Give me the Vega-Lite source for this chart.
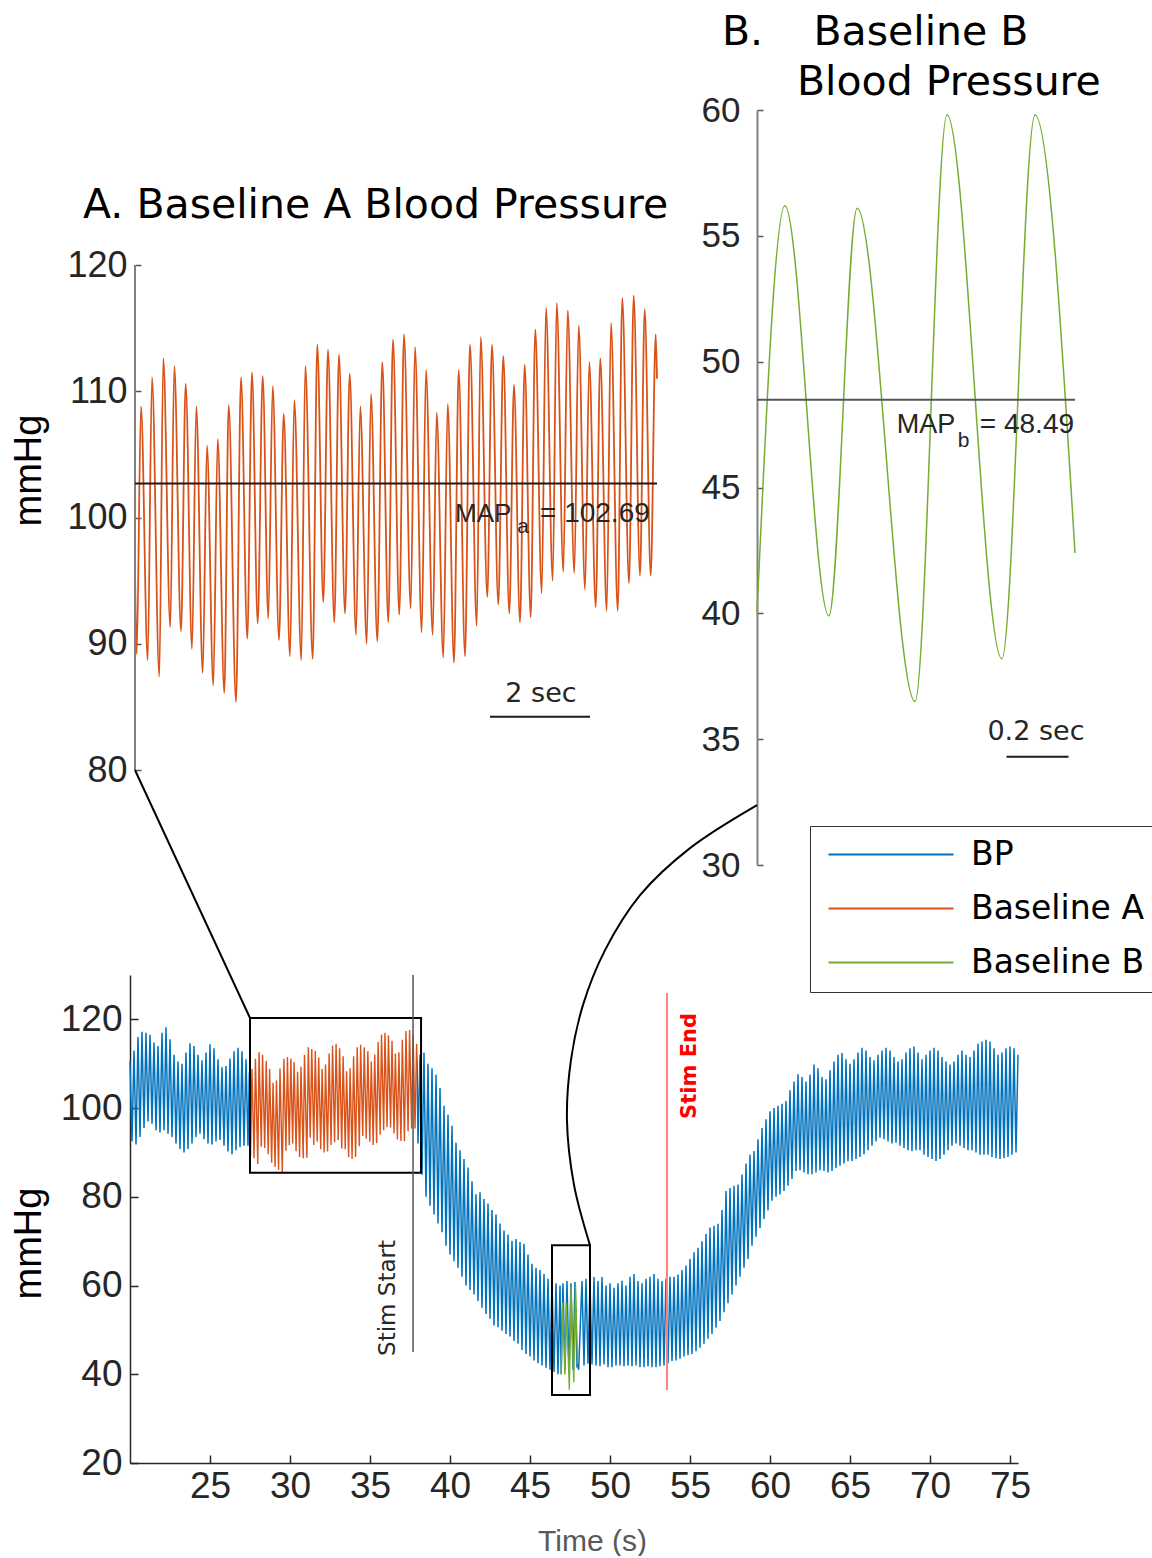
{
"$schema": "https://vega.github.io/schema/vega-lite/v6.json",
"background": "white",
"padding": {"left": 10, "top": 12, "right": 0, "bottom": 0},
"config": {"view": {"stroke": null}, "axis": {"grid": false, "labelFont": "Liberation Sans", "titleFont": "Liberation Sans", "labelColor": "#262626"}, "text": {"font": "DejaVu Sans"}},
"datasets": {
"ba": [{"t":27.5,"v":96},{"t":27.534,"v":89.2},{"t":27.62,"v":108.8},{"t":27.754,"v":88.7},{"t":27.84,"v":111.1},{"t":27.986,"v":87.4},{"t":28.066,"v":112.6},{"t":28.206,"v":91.3},{"t":28.286,"v":112},{"t":28.42,"v":91},{"t":28.514,"v":110.6},{"t":28.64,"v":89.6},{"t":28.726,"v":108.8},{"t":28.854,"v":87.7},{"t":28.94,"v":105.7},{"t":29.066,"v":86.7},{"t":29.154,"v":106.2},{"t":29.286,"v":86.1},{"t":29.374,"v":108.9},{"t":29.52,"v":85.4},{"t":29.62,"v":111.1},{"t":29.746,"v":90.4},{"t":29.84,"v":111.5},{"t":29.954,"v":91.6},{"t":30.054,"v":111.2},{"t":30.166,"v":92},{"t":30.254,"v":110.4},{"t":30.38,"v":90.3},{"t":30.474,"v":108.2},{"t":30.6,"v":89},{"t":30.686,"v":109.3},{"t":30.826,"v":88.7},{"t":30.906,"v":112},{"t":31.054,"v":88.8},{"t":31.146,"v":113.7},{"t":31.266,"v":93.3},{"t":31.36,"v":113.3},{"t":31.486,"v":91.7},{"t":31.58,"v":112.9},{"t":31.7,"v":92.4},{"t":31.794,"v":111.4},{"t":31.92,"v":90.7},{"t":32.006,"v":108.8},{"t":32.134,"v":90},{"t":32.22,"v":109.8},{"t":32.346,"v":90.2},{"t":32.446,"v":112.3},{"t":32.566,"v":91.7},{"t":32.66,"v":114.1},{"t":32.786,"v":92.3},{"t":32.88,"v":114.5},{"t":33.014,"v":92.8},{"t":33.1,"v":113.5},{"t":33.234,"v":90.9},{"t":33.32,"v":111.7},{"t":33.454,"v":90.7},{"t":33.534,"v":108.3},{"t":33.666,"v":88.9},{"t":33.754,"v":109},{"t":33.88,"v":88.5},{"t":33.974,"v":111.7},{"t":34.1,"v":89},{"t":34.2,"v":113.7},{"t":34.334,"v":91.4},{"t":34.414,"v":114.3},{"t":34.546,"v":93.7},{"t":34.64,"v":113.7},{"t":34.766,"v":93.1},{"t":34.866,"v":112.8},{"t":34.986,"v":92.4},{"t":35.08,"v":110.5},{"t":35.2,"v":91.7},{"t":35.294,"v":112.1},{"t":35.414,"v":92.1},{"t":35.506,"v":114.9},{"t":35.634,"v":94},{"t":35.72,"v":116.6},{"t":35.854,"v":95},{"t":35.934,"v":117},{"t":36.066,"v":95.7},{"t":36.154,"v":116.4},{"t":36.286,"v":95.6},{"t":36.374,"v":115.2},{"t":36.5,"v":94.3},{"t":36.586,"v":112.3},{"t":36.714,"v":92.9},{"t":36.806,"v":112.6},{"t":36.934,"v":92.6},{"t":37.02,"v":115.4},{"t":37.154,"v":92.6},{"t":37.246,"v":117.4},{"t":37.38,"v":94.8},{"t":37.474,"v":117.6},{"t":37.6,"v":95.4},{"t":37.694,"v":116.5},{"t":37.814,"v":95.4},{"t":37.914,"v":114.5},{"t":37.94,"v":111}],
"bb": [{"t":46.95,"v":40},{"t":47.04,"v":56.2},{"t":47.182,"v":39.9},{"t":47.273,"v":56.1},{"t":47.46,"v":36.5},{"t":47.563,"v":59.8},{"t":47.74,"v":38.2},{"t":47.847,"v":59.8},{"t":47.976,"v":42.4}],
"bp": [
{"g":1,"t":20,"v":110.5},{"g":1,"t":20.125,"v":92.5},{"g":1,"t":20.25,"v":113},{"g":1,"t":20.375,"v":91.8},{"g":1,"t":20.5,"v":116},{"g":1,"t":20.625,"v":93.5},{"g":1,"t":20.75,"v":117.2},{"g":1,"t":20.875,"v":95.5},{"g":1,"t":21,"v":117},{"g":1,"t":21.125,"v":97},{"g":1,"t":21.25,"v":116.5},{"g":1,"t":21.375,"v":96.5},{"g":1,"t":21.5,"v":114.8},{"g":1,"t":21.625,"v":95},{"g":1,"t":21.75,"v":114},{"g":1,"t":21.875,"v":94.5},{"g":1,"t":22,"v":117},{"g":1,"t":22.125,"v":95},{"g":1,"t":22.25,"v":118.2},{"g":1,"t":22.375,"v":94.2},{"g":1,"t":22.5,"v":115.5},{"g":1,"t":22.625,"v":93.5},{"g":1,"t":22.75,"v":112},{"g":1,"t":22.875,"v":92},{"g":1,"t":23,"v":110.5},{"g":1,"t":23.125,"v":90.8},{"g":1,"t":23.25,"v":110},{"g":1,"t":23.375,"v":90},{"g":1,"t":23.5,"v":112.5},{"g":1,"t":23.625,"v":90.8},{"g":1,"t":23.75,"v":114.6},{"g":1,"t":23.875,"v":92},{"g":1,"t":24,"v":114},{"g":1,"t":24.125,"v":93.5},{"g":1,"t":24.25,"v":112},{"g":1,"t":24.375,"v":94.2},{"g":1,"t":24.5,"v":110.8},{"g":1,"t":24.625,"v":93},{"g":1,"t":24.75,"v":112.5},{"g":1,"t":24.875,"v":92},{"g":1,"t":25,"v":114.4},{"g":1,"t":25.125,"v":91.8},{"g":1,"t":25.25,"v":113.5},{"g":1,"t":25.375,"v":92.5},{"g":1,"t":25.5,"v":111},{"g":1,"t":25.625,"v":92.8},{"g":1,"t":25.75,"v":109.2},{"g":1,"t":25.875,"v":91.5},{"g":1,"t":26,"v":109.5},{"g":1,"t":26.125,"v":90.2},{"g":1,"t":26.25,"v":111.2},{"g":1,"t":26.375,"v":89.6},{"g":1,"t":26.5,"v":112.8},{"g":1,"t":26.625,"v":90.5},{"g":1,"t":26.75,"v":113.6},{"g":1,"t":26.875,"v":91.2},{"g":1,"t":27,"v":112.8},{"g":1,"t":27.125,"v":91.5},{"g":1,"t":27.25,"v":111},{"g":1,"t":27.375,"v":91.5},{"g":1,"t":27.46,"v":108},
{"g":2,"t":37.94,"v":111},{"g":2,"t":38,"v":92},{"g":2,"t":38.125,"v":112},{"g":2,"t":38.25,"v":85},{"g":2,"t":38.375,"v":112.5},{"g":2,"t":38.5,"v":80},{"g":2,"t":38.625,"v":110},{"g":2,"t":38.75,"v":78},{"g":2,"t":38.875,"v":109},{"g":2,"t":39,"v":76},{"g":2,"t":39.125,"v":107.5},{"g":2,"t":39.25,"v":74},{"g":2,"t":39.375,"v":104.5},{"g":2,"t":39.5,"v":72},{"g":2,"t":39.625,"v":100.5},{"g":2,"t":39.75,"v":69},{"g":2,"t":39.875,"v":98.5},{"g":2,"t":40,"v":67},{"g":2,"t":40.125,"v":96},{"g":2,"t":40.25,"v":65.5},{"g":2,"t":40.375,"v":92.2},{"g":2,"t":40.5,"v":64},{"g":2,"t":40.625,"v":90.5},{"g":2,"t":40.75,"v":62},{"g":2,"t":40.875,"v":88.5},{"g":2,"t":41,"v":60},{"g":2,"t":41.125,"v":86.6},{"g":2,"t":41.25,"v":59},{"g":2,"t":41.375,"v":83.5},{"g":2,"t":41.5,"v":58},{"g":2,"t":41.625,"v":80.6},{"g":2,"t":41.75,"v":56.5},{"g":2,"t":41.875,"v":81},{"g":2,"t":42,"v":55},{"g":2,"t":42.125,"v":79.5},{"g":2,"t":42.25,"v":53.6},{"g":2,"t":42.375,"v":78.5},{"g":2,"t":42.5,"v":52.5},{"g":2,"t":42.625,"v":77},{"g":2,"t":42.75,"v":51},{"g":2,"t":42.875,"v":76},{"g":2,"t":43,"v":50.6},{"g":2,"t":43.125,"v":74},{"g":2,"t":43.25,"v":49.8},{"g":2,"t":43.375,"v":72.4},{"g":2,"t":43.5,"v":49.1},{"g":2,"t":43.625,"v":71.5},{"g":2,"t":43.75,"v":48.5},{"g":2,"t":43.875,"v":70.1},{"g":2,"t":44,"v":47.5},{"g":2,"t":44.125,"v":70.5},{"g":2,"t":44.25,"v":46.9},{"g":2,"t":44.375,"v":69.8},{"g":2,"t":44.5,"v":45.5},{"g":2,"t":44.625,"v":69.4},{"g":2,"t":44.75,"v":44.6},{"g":2,"t":44.875,"v":67},{"g":2,"t":45,"v":44},{"g":2,"t":45.125,"v":64.9},{"g":2,"t":45.25,"v":43.1},{"g":2,"t":45.375,"v":64},{"g":2,"t":45.5,"v":42.5},{"g":2,"t":45.625,"v":63.5},{"g":2,"t":45.75,"v":42},{"g":2,"t":45.875,"v":62.6},{"g":2,"t":46,"v":41.5},{"g":2,"t":46.125,"v":61.5},{"g":2,"t":46.25,"v":41},{"g":2,"t":46.375,"v":61.1},{"g":2,"t":46.5,"v":40.5},{"g":2,"t":46.625,"v":60.5},{"g":2,"t":46.75,"v":40},{"g":2,"t":46.875,"v":60},{"g":2,"t":46.95,"v":40},{"g":2,"t":47.06,"v":60.5},{"g":2,"t":47.19,"v":41},{"g":2,"t":47.31,"v":61},{"g":2,"t":47.44,"v":40.5},{"g":2,"t":47.56,"v":60.5},{"g":2,"t":47.69,"v":41},{"g":2,"t":47.81,"v":60.8},{"g":2,"t":47.94,"v":41.5},
{"g":3,"t":47.976,"v":42.4},{"g":3,"t":48.04,"v":41},{"g":3,"t":48.25,"v":61},{"g":3,"t":48.375,"v":42},{"g":3,"t":48.5,"v":61.5},{"g":3,"t":48.625,"v":42.4},{"g":3,"t":48.75,"v":60.5},{"g":3,"t":48.875,"v":42.2},{"g":3,"t":49,"v":61.9},{"g":3,"t":49.125,"v":42},{"g":3,"t":49.25,"v":61},{"g":3,"t":49.375,"v":41.8},{"g":3,"t":49.5,"v":61.9},{"g":3,"t":49.625,"v":42.2},{"g":3,"t":49.75,"v":60},{"g":3,"t":49.875,"v":41.6},{"g":3,"t":50,"v":60.5},{"g":3,"t":50.125,"v":41.6},{"g":3,"t":50.25,"v":59.5},{"g":3,"t":50.375,"v":42},{"g":3,"t":50.5,"v":60.5},{"g":3,"t":50.625,"v":42},{"g":3,"t":50.75,"v":61.1},{"g":3,"t":50.875,"v":41.8},{"g":3,"t":51,"v":60},{"g":3,"t":51.125,"v":42},{"g":3,"t":51.25,"v":62},{"g":3,"t":51.375,"v":41.8},{"g":3,"t":51.5,"v":62.6},{"g":3,"t":51.625,"v":42},{"g":3,"t":51.75,"v":61},{"g":3,"t":51.875,"v":41.6},{"g":3,"t":52,"v":60.5},{"g":3,"t":52.125,"v":41.6},{"g":3,"t":52.25,"v":61.5},{"g":3,"t":52.375,"v":41.8},{"g":3,"t":52.5,"v":62},{"g":3,"t":52.625,"v":41.6},{"g":3,"t":52.75,"v":62.6},{"g":3,"t":52.875,"v":41.6},{"g":3,"t":53,"v":61.5},{"g":3,"t":53.125,"v":41.8},{"g":3,"t":53.25,"v":61},{"g":3,"t":53.375,"v":42},{"g":3,"t":53.5,"v":61.5},{"g":3,"t":53.625,"v":42.5},{"g":3,"t":53.75,"v":62},{"g":3,"t":53.875,"v":43},{"g":3,"t":54,"v":62},{"g":3,"t":54.125,"v":43.1},{"g":3,"t":54.25,"v":62.5},{"g":3,"t":54.375,"v":43.5},{"g":3,"t":54.5,"v":63.5},{"g":3,"t":54.625,"v":44},{"g":3,"t":54.75,"v":64.5},{"g":3,"t":54.875,"v":44.3},{"g":3,"t":55,"v":66},{"g":3,"t":55.125,"v":44.6},{"g":3,"t":55.25,"v":67.5},{"g":3,"t":55.375,"v":45.2},{"g":3,"t":55.5,"v":68.5},{"g":3,"t":55.625,"v":46},{"g":3,"t":55.75,"v":70},{"g":3,"t":55.875,"v":46.9},{"g":3,"t":56,"v":71.6},{"g":3,"t":56.125,"v":48},{"g":3,"t":56.25,"v":73.1},{"g":3,"t":56.375,"v":49.1},{"g":3,"t":56.5,"v":73.5},{"g":3,"t":56.625,"v":50.5},{"g":3,"t":56.75,"v":73.9},{"g":3,"t":56.875,"v":52},{"g":3,"t":57,"v":77},{"g":3,"t":57.125,"v":54},{"g":3,"t":57.25,"v":81.3},{"g":3,"t":57.375,"v":56},{"g":3,"t":57.5,"v":82},{"g":3,"t":57.625,"v":58},{"g":3,"t":57.75,"v":82.5},{"g":3,"t":57.875,"v":60},{"g":3,"t":58,"v":82.8},{"g":3,"t":58.125,"v":62},{"g":3,"t":58.25,"v":85},{"g":3,"t":58.375,"v":64},{"g":3,"t":58.5,"v":87.5},{"g":3,"t":58.625,"v":66},{"g":3,"t":58.75,"v":89.5},{"g":3,"t":58.875,"v":69},{"g":3,"t":59,"v":90.3},{"g":3,"t":59.125,"v":71},{"g":3,"t":59.25,"v":93},{"g":3,"t":59.375,"v":73},{"g":3,"t":59.5,"v":95.5},{"g":3,"t":59.625,"v":75},{"g":3,"t":59.75,"v":97.5},{"g":3,"t":59.875,"v":77},{"g":3,"t":60,"v":99.3},{"g":3,"t":60.125,"v":79.1},{"g":3,"t":60.25,"v":100},{"g":3,"t":60.375,"v":80},{"g":3,"t":60.5,"v":100.5},{"g":3,"t":60.625,"v":80.5},{"g":3,"t":60.75,"v":101},{"g":3,"t":60.875,"v":81.3},{"g":3,"t":61,"v":101.6},{"g":3,"t":61.125,"v":82.5},{"g":3,"t":61.25,"v":104},{"g":3,"t":61.375,"v":84},{"g":3,"t":61.5,"v":106},{"g":3,"t":61.625,"v":85.8},{"g":3,"t":61.75,"v":107.6},{"g":3,"t":61.875,"v":86},{"g":3,"t":62,"v":107},{"g":3,"t":62.125,"v":85.5},{"g":3,"t":62.25,"v":106},{"g":3,"t":62.375,"v":85.1},{"g":3,"t":62.5,"v":107.5},{"g":3,"t":62.625,"v":85.1},{"g":3,"t":62.75,"v":109.8},{"g":3,"t":62.875,"v":85.5},{"g":3,"t":63,"v":109},{"g":3,"t":63.125,"v":86},{"g":3,"t":63.25,"v":107},{"g":3,"t":63.375,"v":85.8},{"g":3,"t":63.5,"v":106.5},{"g":3,"t":63.625,"v":85.5},{"g":3,"t":63.75,"v":108.5},{"g":3,"t":63.875,"v":85.8},{"g":3,"t":64,"v":110.5},{"g":3,"t":64.125,"v":86.5},{"g":3,"t":64.25,"v":112},{"g":3,"t":64.375,"v":87},{"g":3,"t":64.5,"v":112.4},{"g":3,"t":64.625,"v":87.5},{"g":3,"t":64.75,"v":111},{"g":3,"t":64.875,"v":88},{"g":3,"t":65,"v":110},{"g":3,"t":65.125,"v":88.1},{"g":3,"t":65.25,"v":111},{"g":3,"t":65.375,"v":88.5},{"g":3,"t":65.5,"v":112.5},{"g":3,"t":65.625,"v":89},{"g":3,"t":65.75,"v":113.6},{"g":3,"t":65.875,"v":89.6},{"g":3,"t":66,"v":113},{"g":3,"t":66.125,"v":90.5},{"g":3,"t":66.25,"v":111.5},{"g":3,"t":66.375,"v":91.5},{"g":3,"t":66.5,"v":110.8},{"g":3,"t":66.625,"v":92.5},{"g":3,"t":66.75,"v":112},{"g":3,"t":66.875,"v":93.3},{"g":3,"t":67,"v":113},{"g":3,"t":67.125,"v":93},{"g":3,"t":67.25,"v":113.6},{"g":3,"t":67.375,"v":92.5},{"g":3,"t":67.5,"v":113},{"g":3,"t":67.625,"v":92},{"g":3,"t":67.75,"v":111.5},{"g":3,"t":67.875,"v":92.2},{"g":3,"t":68,"v":110.5},{"g":3,"t":68.125,"v":91.5},{"g":3,"t":68.25,"v":111},{"g":3,"t":68.375,"v":91},{"g":3,"t":68.5,"v":112.5},{"g":3,"t":68.625,"v":90.5},{"g":3,"t":68.75,"v":113.5},{"g":3,"t":68.875,"v":90.3},{"g":3,"t":69,"v":113.9},{"g":3,"t":69.125,"v":90.5},{"g":3,"t":69.25,"v":112.5},{"g":3,"t":69.375,"v":90.5},{"g":3,"t":69.5,"v":111},{"g":3,"t":69.625,"v":89.5},{"g":3,"t":69.75,"v":112},{"g":3,"t":69.875,"v":89},{"g":3,"t":70,"v":113},{"g":3,"t":70.125,"v":88.5},{"g":3,"t":70.25,"v":113.6},{"g":3,"t":70.375,"v":88.1},{"g":3,"t":70.5,"v":113},{"g":3,"t":70.625,"v":88.5},{"g":3,"t":70.75,"v":111.5},{"g":3,"t":70.875,"v":89.5},{"g":3,"t":71,"v":110.5},{"g":3,"t":71.125,"v":90.5},{"g":3,"t":71.25,"v":109.8},{"g":3,"t":71.375,"v":91.5},{"g":3,"t":71.5,"v":110.5},{"g":3,"t":71.625,"v":92},{"g":3,"t":71.75,"v":112},{"g":3,"t":71.875,"v":91.5},{"g":3,"t":72,"v":113},{"g":3,"t":72.125,"v":91},{"g":3,"t":72.25,"v":112},{"g":3,"t":72.375,"v":90.5},{"g":3,"t":72.5,"v":111.5},{"g":3,"t":72.625,"v":90.5},{"g":3,"t":72.75,"v":113},{"g":3,"t":72.875,"v":90},{"g":3,"t":73,"v":114.5},{"g":3,"t":73.125,"v":89.5},{"g":3,"t":73.25,"v":115},{"g":3,"t":73.375,"v":89.5},{"g":3,"t":73.5,"v":115.4},{"g":3,"t":73.625,"v":89.5},{"g":3,"t":73.75,"v":115},{"g":3,"t":73.875,"v":89},{"g":3,"t":74,"v":113.5},{"g":3,"t":74.125,"v":88.7},{"g":3,"t":74.25,"v":112},{"g":3,"t":74.375,"v":88.5},{"g":3,"t":74.5,"v":112.5},{"g":3,"t":74.625,"v":88.7},{"g":3,"t":74.75,"v":113.5},{"g":3,"t":74.875,"v":89},{"g":3,"t":75,"v":113.9},{"g":3,"t":75.125,"v":89.5},{"g":3,"t":75.25,"v":113.5},{"g":3,"t":75.375,"v":90},{"g":3,"t":75.5,"v":112}
]
},
"align": "none",
"spacing": -117,
"resolve": {"scale": {"color": "independent"}, "legend": {"color": "independent"}},
"vconcat": [
{
"hconcat": [
{
"width": 527, "height": 660,
"layer": [
{"data": {"name": "ba"}, "mark": {"type": "line", "color": "#D95319", "strokeWidth": 1.8, "interpolate": "monotone"},
 "encoding": {
  "x": {"field": "t", "type": "quantitative", "scale": {"domain": [27.4, 37.94], "nice": false, "zero": false}, "axis": null},
  "y": {"field": "v", "type": "quantitative", "scale": {"domain": [80, 132.28], "nice": false, "zero": false},
        "axis": {"values": [80, 90, 100, 110, 120], "offset": -5, "domain": false, "tickSize": -6, "tickColor": "#555555", "tickWidth": 1.5, "labelFontSize": 36, "labelPadding": 14, "title": "mmHg", "titleX": -95, "titleY": 360, "titleAngle": -90, "titleAlign": "center", "titleBaseline": "alphabetic", "titleFontSize": 38, "titleFontWeight": "normal", "titleColor": "black"}}
 }},
{"data": {"values": [{}]}, "mark": {"type": "rule", "color": "#808080", "strokeWidth": 2},
 "encoding": {"x": {"datum": 27.5, "type": "quantitative"}, "y": {"datum": 80, "type": "quantitative"}, "y2": {"datum": 120}}},
{"data": {"values": [{}]}, "mark": {"type": "rule", "color": "#1a1a1a", "strokeWidth": 2},
 "encoding": {"x": {"datum": 27.5, "type": "quantitative"}, "x2": {"datum": 37.94}, "y": {"datum": 102.69, "type": "quantitative"}}},
{"data": {"values": [{}]}, "mark": {"type": "rule", "color": "#1a1a1a", "strokeWidth": 2},
 "encoding": {"x": {"datum": 34.6, "type": "quantitative"}, "x2": {"datum": 36.6}, "y": {"datum": 84.22, "type": "quantitative"}}},
{"data": {"values": [{}]}, "mark": {"type": "text", "font": "DejaVu Sans", "fontSize": 27, "align": "center", "baseline": "alphabetic", "color": "#262626"},
 "encoding": {"x": {"datum": 35.62, "type": "quantitative"}, "y": {"datum": 85.41, "type": "quantitative"}, "text": {"value": "2 sec"}}},
{"data": {"values": [{}]}, "mark": {"type": "text", "font": "Liberation Sans", "fontSize": 26, "align": "left", "baseline": "alphabetic", "color": "#262626"},
 "encoding": {"x": {"datum": 33.9, "type": "quantitative"}, "y": {"datum": 99.67, "type": "quantitative"}, "text": {"value": "MAP"}}},
{"data": {"values": [{}]}, "mark": {"type": "text", "font": "Liberation Sans", "fontSize": 21, "align": "left", "baseline": "alphabetic", "color": "#262626"},
 "encoding": {"x": {"datum": 35.146, "type": "quantitative"}, "y": {"datum": 98.75, "type": "quantitative"}, "text": {"value": "a"}}},
{"data": {"values": [{}]}, "mark": {"type": "text", "font": "Liberation Sans", "fontSize": 28, "align": "left", "baseline": "alphabetic", "color": "#262626"},
 "encoding": {"x": {"datum": 35.6, "type": "quantitative"}, "y": {"datum": 99.67, "type": "quantitative"}, "text": {"value": "= 102.69"}}},
{"data": {"values": [{}]}, "mark": {"type": "text", "font": "DejaVu Sans", "fontSize": 41, "align": "left", "baseline": "alphabetic", "color": "black"},
 "encoding": {"x": {"datum": 26.46, "type": "quantitative"}, "y": {"datum": 123.72, "type": "quantitative"}, "text": {"value": "A. Baseline A Blood Pressure"}}}
]
},
{
"width": 318, "height": 755,
"layer": [
{"data": {"name": "bb"}, "mark": {"type": "line", "color": "#77AC30", "strokeWidth": 1.5, "interpolate": "monotone"},
 "encoding": {
  "x": {"field": "t", "type": "quantitative", "scale": {"domain": [46.95, 47.976], "nice": false, "zero": false}, "axis": null},
  "y": {"field": "v", "type": "quantitative", "scale": {"domain": [30, 60], "nice": false, "zero": false},
        "axis": {"values": [30, 35, 40, 45, 50, 55, 60], "domainColor": "#808080", "domainWidth": 2, "tickSize": -6, "tickColor": "#555555", "tickWidth": 1.5, "labelFontSize": 35, "labelPadding": 23, "title": null}}
 }},
{"data": {"values": [{}]}, "mark": {"type": "rule", "color": "#555555", "strokeWidth": 2},
 "encoding": {"y": {"datum": 48.49, "type": "quantitative"}}},
{"data": {"values": [{}]}, "mark": {"type": "rule", "color": "#1a1a1a", "strokeWidth": 2},
 "encoding": {"x": {"datum": 47.755, "type": "quantitative"}, "x2": {"datum": 47.955}, "y": {"datum": 34.3, "type": "quantitative"}}},
{"data": {"values": [{}]}, "mark": {"type": "text", "font": "DejaVu Sans", "fontSize": 27, "align": "center", "baseline": "alphabetic", "color": "#262626"},
 "encoding": {"x": {"datum": 47.85, "type": "quantitative"}, "y": {"datum": 34.97, "type": "quantitative"}, "text": {"value": "0.2 sec"}}},
{"data": {"values": [{}]}, "mark": {"type": "text", "font": "Liberation Sans", "fontSize": 27, "align": "left", "baseline": "alphabetic", "color": "#262626"},
 "encoding": {"x": {"datum": 47.401, "type": "quantitative"}, "y": {"datum": 47.16, "type": "quantitative"}, "text": {"value": "MAP"}}},
{"data": {"values": [{}]}, "mark": {"type": "text", "font": "Liberation Sans", "fontSize": 21, "align": "left", "baseline": "alphabetic", "color": "#262626"},
 "encoding": {"x": {"datum": 47.598, "type": "quantitative"}, "y": {"datum": 46.61, "type": "quantitative"}, "text": {"value": "b"}}},
{"data": {"values": [{}]}, "mark": {"type": "text", "font": "Liberation Sans", "fontSize": 28, "align": "left", "baseline": "alphabetic", "color": "#262626"},
 "encoding": {"x": {"datum": 47.669, "type": "quantitative"}, "y": {"datum": 47.16, "type": "quantitative"}, "text": {"value": "= 48.49"}}},
{"data": {"values": [{}]}, "mark": {"type": "text", "font": "DejaVu Sans", "fontSize": 41, "align": "left", "baseline": "alphabetic", "color": "black"},
 "encoding": {"x": {"datum": 46.837, "type": "quantitative"}, "y": {"datum": 62.58, "type": "quantitative"}, "text": {"value": "B."}}},
{"data": {"values": [{}]}, "mark": {"type": "text", "font": "DejaVu Sans", "fontSize": 41, "align": "left", "baseline": "alphabetic", "color": "black"},
 "encoding": {"x": {"datum": 47.132, "type": "quantitative"}, "y": {"datum": 62.58, "type": "quantitative"}, "text": {"value": "Baseline B"}}},
{"data": {"values": [{}]}, "mark": {"type": "text", "font": "DejaVu Sans", "fontSize": 41, "align": "left", "baseline": "alphabetic", "color": "black"},
 "encoding": {"x": {"datum": 47.079, "type": "quantitative"}, "y": {"datum": 60.59, "type": "quantitative"}, "text": {"value": "Blood Pressure"}}}
]
}
],
"spacing": 100,
"bounds": "flush"
},
{
"width": 888, "height": 488,
"layer": [
{"data": {"name": "bp"}, "mark": {"type": "line", "strokeWidth": 1.5},
 "encoding": {
  "x": {"field": "t", "type": "quantitative", "scale": {"domain": [20, 75.5], "nice": false, "zero": false},
        "axis": {"values": [25, 30, 35, 40, 45, 50, 55, 60, 65, 70, 75], "domainColor": "#262626", "domainWidth": 1.5, "tickSize": -8, "tickColor": "#262626", "tickWidth": 1.5, "labelFontSize": 37, "labelPadding": 13, "title": "Time (s)", "titleFontSize": 30, "titleFontWeight": "normal", "titleColor": "#595959", "titleX": 462, "titleY": 87, "titleAlign": "center", "titleBaseline": "alphabetic"}},
  "y": {"field": "v", "type": "quantitative", "scale": {"domain": [20, 130], "nice": false, "zero": false},
        "axis": {"values": [20, 40, 60, 80, 100, 120], "domainColor": "#262626", "domainWidth": 1.5, "tickSize": -8, "tickColor": "#262626", "tickWidth": 1.5, "labelFontSize": 37, "labelPadding": 16, "title": "mmHg", "titleX": -90, "titleY": 268, "titleAngle": -90, "titleAlign": "center", "titleBaseline": "alphabetic", "titleFontSize": 38, "titleFontWeight": "normal", "titleColor": "black"}},
  "detail": {"field": "g", "type": "nominal"},
  "color": {"datum": "BP", "scale": {"domain": ["BP", "Baseline A", "Baseline B"], "range": ["#0072BD", "#D95319", "#77AC30"]},
            "legend": {"orient": "none", "legendX": 680, "legendY": -149, "title": null, "symbolType": "M-1,0H11.5", "symbolSize": 400, "symbolStrokeWidth": 2, "labelFont": "DejaVu Sans", "labelFontSize": 33, "labelColor": "black", "labelOffset": 116, "labelLimit": 400, "rowPadding": 20, "padding": 12, "strokeColor": "#333333", "fillColor": "white"}}
 }},
{"data": {"name": "ba"}, "mark": {"type": "line", "strokeWidth": 1.4},
 "encoding": {"x": {"field": "t", "type": "quantitative"}, "y": {"field": "v", "type": "quantitative"}, "color": {"datum": "Baseline A"}}},
{"data": {"name": "bb"}, "mark": {"type": "line", "strokeWidth": 1.4},
 "encoding": {"x": {"field": "t", "type": "quantitative"}, "y": {"field": "v", "type": "quantitative"}, "color": {"datum": "Baseline B"}}},
{"data": {"values": [{}]}, "mark": {"type": "rect", "fillOpacity": 0, "stroke": "black", "strokeWidth": 2},
 "encoding": {"x": {"datum": 27.5, "type": "quantitative"}, "x2": {"datum": 38.19}, "y": {"datum": 85.4, "type": "quantitative"}, "y2": {"datum": 120.3}}},
{"data": {"values": [{}]}, "mark": {"type": "rect", "fillOpacity": 0, "stroke": "black", "strokeWidth": 2},
 "encoding": {"x": {"datum": 46.375, "type": "quantitative"}, "x2": {"datum": 48.75}, "y": {"datum": 35.3, "type": "quantitative"}, "y2": {"datum": 69.1}}},
{"data": {"values": [{}]}, "mark": {"type": "rule", "color": "#555555", "strokeWidth": 1.5},
 "encoding": {"x": {"datum": 37.69, "type": "quantitative"}, "y": {"datum": 45, "type": "quantitative"}, "y2": {"datum": 130}}},
{"data": {"values": [{}]}, "mark": {"type": "rule", "color": "#FF7F7F", "strokeWidth": 2},
 "encoding": {"x": {"datum": 53.56, "type": "quantitative"}, "y": {"datum": 36.46, "type": "quantitative"}, "y2": {"datum": 125.95}}},
{"data": {"values": [{}]}, "mark": {"type": "text", "font": "DejaVu Sans", "fontSize": 23, "angle": 270, "align": "center", "baseline": "middle", "color": "#262626"},
 "encoding": {"x": {"datum": 36.125, "type": "quantitative"}, "y": {"datum": 57.2, "type": "quantitative"}, "text": {"value": "Stim Start"}}},
{"data": {"values": [{}]}, "mark": {"type": "text", "font": "DejaVu Sans", "fontSize": 21, "fontWeight": "bold", "angle": 270, "align": "center", "baseline": "middle", "color": "#FF0000"},
 "encoding": {"x": {"datum": 55.0, "type": "quantitative"}, "y": {"datum": 109.5, "type": "quantitative"}, "text": {"value": "Stim End"}}},
{"data": {"values": [{"t": 27.5, "v": 120.3}, {"t": 20.31, "v": 176.2}]}, "mark": {"type": "line", "color": "black", "strokeWidth": 2},
 "encoding": {"x": {"field": "t", "type": "quantitative"}, "y": {"field": "v", "type": "quantitative"}}},
{"data": {"values": [{"i": 1, "t": 48.75, "v": 69.1}, {"i": 2, "t": 47.75, "v": 82.7}, {"i": 3, "t": 47.31, "v": 97.3}, {"i": 4, "t": 47.56, "v": 110.8}, {"i": 5, "t": 48.31, "v": 123.2}, {"i": 6, "t": 49.69, "v": 135.6}, {"i": 7, "t": 51.88, "v": 148.0}, {"i": 8, "t": 55.0, "v": 158.6}, {"i": 9, "t": 59.19, "v": 168.3}]},
 "mark": {"type": "line", "color": "black", "strokeWidth": 2, "interpolate": "catmull-rom"},
 "encoding": {"x": {"field": "t", "type": "quantitative"}, "y": {"field": "v", "type": "quantitative"}, "order": {"field": "i", "type": "quantitative"}}}
]
}
]
}
